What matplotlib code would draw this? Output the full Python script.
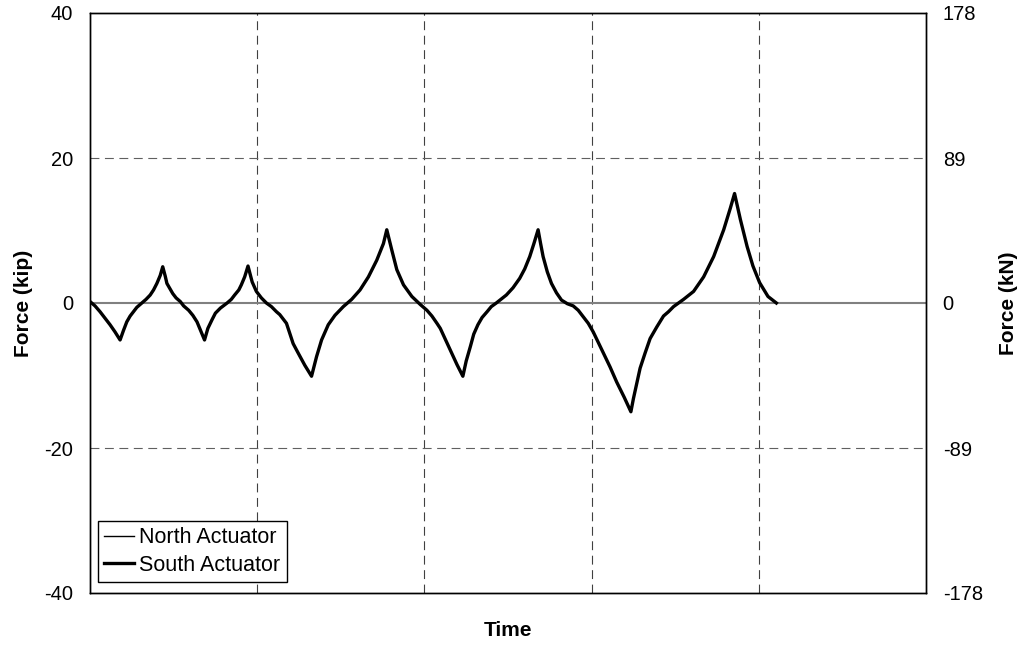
"""Actuator force history: North and South actuators (kip / kN)."""

import matplotlib

matplotlib.use("Agg")
import matplotlib.pyplot as plt

plt.rcParams["font.family"] = ["Liberation Sans", "DejaVu Sans"]
plt.rcParams["axes.unicode_minus"] = False

# time in arbitrary units (axis spans 0..100, grid every 20)
time = [
    0.0, 0.6, 1.2, 1.8, 2.4, 3.0, 3.6,
    4.0, 4.4, 4.8, 5.2, 5.6, 6.2, 6.7, 7.2, 7.6, 8.0, 8.4, 8.7,
    9.0, 9.2, 9.6, 9.9, 10.3, 10.8, 11.2, 11.8, 12.3, 12.8, 13.2, 13.7,
    14.1, 14.6, 15.0, 15.6, 16.4, 16.9, 17.3, 17.8, 18.1, 18.5, 18.9,
    19.1, 19.4, 19.9, 20.5, 21.1, 21.7, 22.3, 22.7, 23.5, 23.9, 24.3,
    24.9, 25.7, 26.5,
    27.1, 27.7, 28.5, 29.3, 30.3, 31.3, 32.3, 33.3, 34.3, 35.1, 35.5,
    36.1, 36.7, 37.5, 38.5, 39.5, 40.3, 40.9, 41.5, 41.9, 42.5, 43.3,
    43.9, 44.6,
    45.0, 45.5, 45.9, 46.4, 46.9, 47.5, 48.0, 48.6, 49.8, 50.6, 51.4,
    52.0, 52.6, 53.1, 53.6,
    53.9, 54.2, 54.7, 55.2, 55.8, 56.4, 57.1, 57.8, 58.4, 59.0, 59.6,
    60.2, 61.4, 62.2, 63.0, 63.9, 64.7,
    65.0, 65.4, 65.8, 66.4, 67.0, 67.8, 68.6, 69.2, 69.8, 71.0, 72.2,
    73.4, 74.6, 75.8, 76.6, 77.1,
    77.8, 78.6, 79.3, 80.1, 81.1, 82.1,
]

south_kip = [
    0.2, -0.4, -1.2, -2.1, -3.0, -4.0, -5.1,
    -3.8, -2.6, -1.8, -1.2, -0.6, 0.0, 0.5, 1.1, 1.8, 2.7, 3.8, 5.0,
    3.7, 2.7, 1.9, 1.3, 0.7, 0.2, -0.4, -1.0, -1.7, -2.6, -3.7, -5.1,
    -3.5, -2.3, -1.4, -0.7, 0.0, 0.5, 1.1, 1.8, 2.5, 3.6, 5.1,
    4.2, 2.9, 1.6, 0.7, 0.0, -0.5, -1.2, -1.6, -2.8, -4.2, -5.6,
    -6.9, -8.6, -10.1,
    -7.4, -5.1, -3.0, -1.7, -0.5, 0.5, 1.8, 3.6, 5.9, 8.2, 10.1,
    7.3, 4.6, 2.5, 0.9, -0.2, -1.0, -1.8, -2.8, -3.5, -5.0, -7.0,
    -8.5, -10.1,
    -8.0, -6.0, -4.3, -3.0, -2.0, -1.2, -0.5, 0.0, 1.1, 2.1, 3.4,
    4.7, 6.4, 8.2, 10.1,
    8.2, 6.4, 4.3, 2.7, 1.4, 0.4, -0.1, -0.4, -1.0, -1.9, -2.8,
    -4.0, -6.9, -8.8, -10.9, -13.0, -15.0,
    -13.2, -11.1, -9.0, -6.9, -4.9, -3.3, -1.8, -1.2, -0.5, 0.5, 1.6,
    3.6, 6.4, 10.1, 13.1, 15.1,
    11.5, 7.8, 5.1, 2.8, 0.9, 0.0,
]

# the north actuator trace sits underneath the south one
north_kip = list(south_kip)

kip_ticks = [-40, -20, 0, 20, 40]
kn_ticks = [-178, -89, 0, 89, 178]
time_grid = [20, 40, 60, 80]


def main() -> None:
    fig = plt.figure(figsize=(10.21, 6.46), dpi=100)
    ax = fig.add_axes([90 / 1021, 53 / 646, 836 / 1021, 580 / 646])

    for x in time_grid:
        ax.axvline(x, color="#404040", lw=0.8, ls=(0, (8, 5)), zorder=1)
    for y in (-20, 20):
        ax.axhline(y, color="#606060", lw=0.8, ls=(0, (8, 5)), zorder=1)
    ax.axhline(0, color="#808080", lw=1.5, zorder=1)

    ax.plot(time, north_kip, color="black", lw=1.0, label="North Actuator", zorder=3)
    ax.plot(time, south_kip, color="black", lw=2.4, label="South Actuator",
            zorder=2, solid_joinstyle="round")

    ax.set_xlim(0, 100)
    ax.set_ylim(-40, 40)
    ax.set_xticks([])
    ax.set_yticks(kip_ticks)
    ax.tick_params(axis="y", length=0, labelsize=14.5, pad=12)
    ax.set_xlabel("Time", fontsize=15, fontweight="bold", labelpad=20)
    ax.set_ylabel("Force (kip)", fontsize=15, fontweight="bold", labelpad=8)

    ax2 = ax.twinx()
    ax2.set_ylim(-178, 178)
    ax2.set_yticks(kn_ticks)
    ax2.tick_params(axis="y", length=0, labelsize=14.5, pad=12)
    ax2.set_ylabel("Force (kN)", fontsize=15, fontweight="bold", labelpad=12)

    for a in (ax, ax2):
        for spine in a.spines.values():
            spine.set_linewidth(1.0)
            spine.set_color("black")

    leg = ax.legend(
        loc="lower left",
        bbox_to_anchor=(0.0096, 0.019),
        borderaxespad=0,
        fontsize=15.5,
        fancybox=False,
        framealpha=1,
        edgecolor="black",
        handlelength=1.35,
        handletextpad=0.25,
        borderpad=0.3,
        labelspacing=0.3,
    )
    leg.get_frame().set_linewidth(1.0)

    fig.savefig("out.png", dpi=100)
    plt.close(fig)


if __name__ == "__main__":
    main()
